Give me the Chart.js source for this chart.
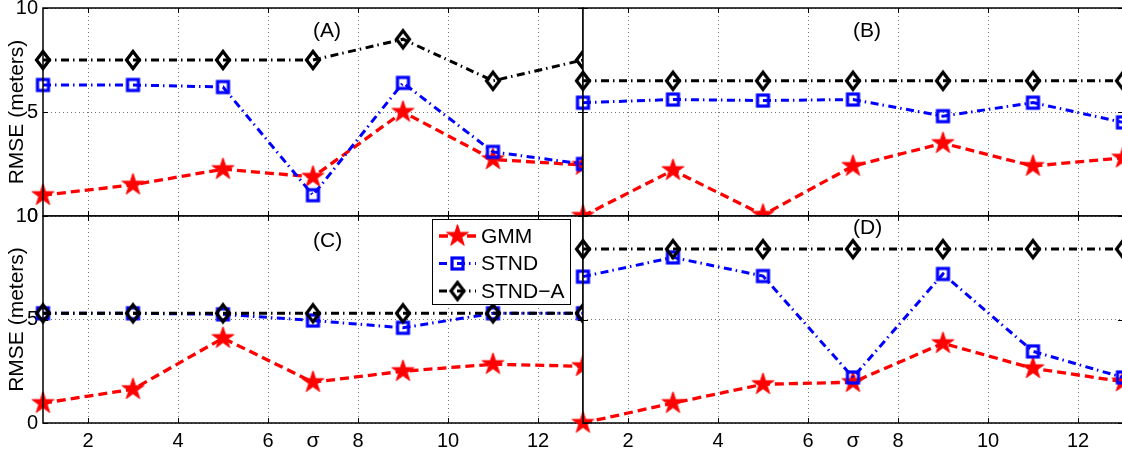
<!DOCTYPE html>
<html><head><meta charset="utf-8">
<script src="https://cdn.jsdelivr.net/npm/chart.js@4.4.0/dist/chart.umd.min.js"></script>
<style>
html,body{margin:0;padding:0;background:#fff;overflow:hidden;}
#wrap{position:relative;width:1122px;height:454px;overflow:hidden;background:#fff;}
#wrap canvas{position:absolute;}
</style></head><body>
<div id="wrap">
<canvas id="cA"></canvas><canvas id="cB"></canvas><canvas id="cC"></canvas><canvas id="cD"></canvas>
</div>
<script>
// ---- data ----
const sigma = [1, 3, 5, 7, 9, 11, 13];
const xTickValues = [2, 4, 6, 8, 10, 12];
const xTickLabels = ['2', '4', '6', '8', '10', '12'];
const yTickValues = [0, 5, 10];
const yTickLabels = ['0', '5', '10'];
const seriesNames = ['GMM', 'STND', 'STND\u2212A'];
const panelNames = ['(A)', '(B)', '(C)', '(D)'];
const yLabel = 'RMSE (meters)';
const xLabel = '\u03c3';

const gmmA   = [1.0, 1.5, 2.25, 1.88, 5.0, 2.72, 2.45];
const stndA  = [6.3, 6.3, 6.2, 1.0, 6.4, 3.08, 2.5];
const stndaA = [7.5, 7.5, 7.5, 7.5, 8.5, 6.5, 7.5];

const gmmB   = [0.0, 2.2, 0.05, 2.4, 3.5, 2.4, 2.8];
const stndB  = [5.45, 5.6, 5.55, 5.6, 4.8, 5.45, 4.5];
const stndaB = [6.5, 6.5, 6.5, 6.5, 6.5, 6.5, 6.5];

const gmmC   = [0.96, 1.63, 4.1, 1.97, 2.5, 2.84, 2.74];
const stndC  = [5.3, 5.3, 5.25, 4.95, 4.6, 5.3, 5.3];
const stndaC = [5.3, 5.3, 5.3, 5.3, 5.3, 5.3, 5.3];

const gmmD   = [0.0, 0.96, 1.87, 1.97, 3.85, 2.64, 2.0];
const stndD  = [7.07, 8.0, 7.1, 2.2, 7.2, 3.46, 2.2];
const stndaD = [8.4, 8.4, 8.4, 8.4, 8.4, 8.4, 8.4];

// ---- markers ----
function starImg(R, color) {
  const s = Math.ceil(2 * R + 2);
  const c = document.createElement('canvas'); c.width = s; c.height = s;
  const g = c.getContext('2d');
  const cx = s / 2, cy = s / 2, r = R * 0.382;
  g.beginPath();
  for (let i = 0; i < 10; i++) {
    const a = -Math.PI / 2 + i * Math.PI / 5;
    const rr = i % 2 === 0 ? R : r;
    const px = cx + rr * Math.cos(a), py = cy + rr * Math.sin(a);
    if (i === 0) g.moveTo(px, py); else g.lineTo(px, py);
  }
  g.closePath(); g.fillStyle = color; g.fill();
  g.strokeStyle = color; g.lineWidth = 1; g.stroke();
  return c;
}
function squareImg(side, lw, color) {
  const s = Math.ceil(side + lw + 2);
  const c = document.createElement('canvas'); c.width = s; c.height = s;
  const g = c.getContext('2d');
  g.strokeStyle = color; g.lineWidth = lw;
  g.strokeRect(s / 2 - side / 2, s / 2 - side / 2, side, side);
  return c;
}
function diamondImg(a, b, lw, color) {
  const w = Math.ceil(2 * a + 2 * lw + 6), h = Math.ceil(2 * b + 2 * lw + 8);
  const c = document.createElement('canvas'); c.width = w; c.height = h;
  const g = c.getContext('2d');
  const cx = w / 2, cy = h / 2;
  g.beginPath(); g.moveTo(cx, cy - b); g.lineTo(cx + a, cy); g.lineTo(cx, cy + b); g.lineTo(cx - a, cy); g.closePath();
  g.strokeStyle = color; g.lineWidth = lw; g.lineJoin = 'miter'; g.stroke();
  return c;
}
const starM = starImg(11.5, '#ff0000');
const squareM = squareImg(11, 3.2, '#0000ff');
const diamondM = diamondImg(6.5, 8.5, 3.2, '#000000');

const FONT = "'Liberation Sans', Arial, Helvetica, sans-serif";

// ---- plugins ----
const bgPlugin = {
  id: 'bg',
  beforeDraw(chart) {
    const {ctx, chartArea: a} = chart;
    ctx.save(); ctx.fillStyle = '#fff'; ctx.fillRect(a.left, a.top, a.right - a.left, a.bottom - a.top); ctx.restore();
  }
};
const boxPlugin = {
  id: 'box',
  afterDraw(chart) {
    const {ctx, chartArea: a, scales} = chart;
    ctx.save();
    ctx.strokeStyle = '#000'; ctx.lineWidth = 1.5;
    ctx.strokeRect(a.left, a.top, a.right - a.left, a.bottom - a.top);
    ctx.lineWidth = 1;
    ctx.beginPath();
    xTickValues.forEach(v => {
      const px = Math.round(scales.x.getPixelForValue(v)) + 0.5;
      ctx.moveTo(px, a.bottom); ctx.lineTo(px, a.bottom - 5);
      ctx.moveTo(px, a.top); ctx.lineTo(px, a.top + 5);
    });
    yTickValues.forEach(v => {
      const py = Math.round(scales.y.getPixelForValue(v)) + 0.5;
      ctx.moveTo(a.left, py); ctx.lineTo(a.left + 5, py);
      ctx.moveTo(a.right, py); ctx.lineTo(a.right - 5, py);
    });
    ctx.stroke();
    const pt = chart.options.plugins.panelTitle;
    if (pt) {
      ctx.fillStyle = '#000'; ctx.font = '21px ' + FONT;
      ctx.textAlign = 'left'; ctx.textBaseline = 'middle';
      ctx.fillText(pt.text, scales.x.getPixelForValue(pt.x), scales.y.getPixelForValue(pt.y));
    }
    ctx.restore();
  }
};
const legendPlugin = {
  id: 'mlegend',
  afterDraw(chart) {
    const opts = chart.options.plugins.mlegend;
    if (!opts || !opts.show) return;
    const ctx = chart.ctx;
    const {left, top, width, height, rowH, lineLen} = opts;
    ctx.save();
    ctx.fillStyle = '#fff'; ctx.fillRect(left, top, width, height);
    ctx.strokeStyle = '#000'; ctx.lineWidth = 1; ctx.strokeRect(left + 0.5, top + 0.5, width, height);
    chart.data.datasets.slice().sort((p, q) => q.order - p.order).forEach((ds, i) => {
      const y = top + 17 + i * rowH;
      const x0 = left + 7, x1 = x0 + lineLen;
      ctx.strokeStyle = ds.borderColor; ctx.lineWidth = ds.borderWidth; ctx.setLineDash(ds.borderDash);
      ctx.beginPath(); ctx.moveTo(x0, y); ctx.lineTo(x1, y); ctx.stroke(); ctx.setLineDash([]);
      const m = ds.pointStyle;
      ctx.drawImage(m, (x0 + x1) / 2 - m.width / 2, y - m.height / 2);
      ctx.fillStyle = '#000'; ctx.font = '21px ' + FONT; ctx.textAlign = 'left'; ctx.textBaseline = 'middle';
      ctx.fillText(ds.label, x1 + 5, y + 1);
    });
    ctx.restore();
  }
};

function mkDatasets(gmm, stnd, stnda) {
  const pts = arr => sigma.map((x, i) => ({x: x, y: arr[i]}));
  return [
    {label: seriesNames[0], data: pts(gmm), borderColor: '#ff0000', borderWidth: 3.3, borderDash: [9, 5],
     pointStyle: starM, pointRadius: 11, clip: false, order: 3},
    {label: seriesNames[1], data: pts(stnd), borderColor: '#0000ff', borderWidth: 3, borderDash: [8, 4, 1.5, 4.5],
     pointStyle: squareM, pointRadius: 8, clip: false, order: 2},
    {label: seriesNames[2], data: pts(stnda), borderColor: '#000000', borderWidth: 3, borderDash: [8, 4, 1.5, 4.5],
     pointStyle: diamondM, pointRadius: 9, clip: false, order: 1}
  ];
}

function makeChart(id, box, sets, cfg) {
  const cv = document.getElementById(id);
  cv.width = box.w; cv.height = box.h;
  cv.style.left = box.left + 'px'; cv.style.top = box.top + 'px';
  cv.style.width = box.w + 'px'; cv.style.height = box.h + 'px';
  return new Chart(cv, {
    type: 'line',
    data: {datasets: sets},
    plugins: [bgPlugin, boxPlugin, legendPlugin],
    options: {
      responsive: false, animation: false, devicePixelRatio: 1,
      layout: {padding: cfg.padding, autoPadding: false},
      elements: {line: {tension: 0, fill: false}},
      plugins: {legend: {display: false}, tooltip: {enabled: false}, title: {display: false},
        panelTitle: cfg.panelTitle, mlegend: cfg.legend || {show: false}},
      scales: {
        x: {
          type: 'linear', min: 1, max: 13,
          afterBuildTicks: s => { s.ticks = xTickValues.map(v => ({value: v})); },
          afterFit: s => { s.height = cfg.xAxisH; s.paddingLeft = 0; s.paddingRight = 0; },
          ticks: {display: cfg.showX, autoSkip: false, maxRotation: 0, padding: 6, color: '#000',
            font: {family: FONT, size: 20}, callback: (v, i) => xTickLabels[i]},
          grid: {color: 'rgba(0,0,0,0.55)', lineWidth: 1, drawTicks: false},
          border: {display: false, dash: [1, 3]},
          title: {display: cfg.showX, text: xLabel, color: '#000', font: {family: FONT, size: 21},
            padding: {top: 0, bottom: 0}}
        },
        y: {
          type: 'linear', min: 0, max: 10,
          afterBuildTicks: s => { s.ticks = yTickValues.map(v => ({value: v})); },
          afterFit: s => { s.width = cfg.yAxisW; s.paddingTop = 0; s.paddingBottom = 0; },
          ticks: {display: cfg.showY, autoSkip: false, padding: 5, color: '#000',
            font: {family: FONT, size: 20}, callback: (v, i) => yTickLabels[i]},
          grid: {color: 'rgba(0,0,0,0.55)', lineWidth: 1, drawTicks: false},
          border: {display: false, dash: [1, 3]},
          title: {display: cfg.showY, text: yLabel, color: '#000', font: {family: FONT, size: 21},
            padding: {top: 5, bottom: 0}}
        }
      }
    }
  });
}

makeChart('cA', {left: 0, top: 0, w: 600, h: 235}, mkDatasets(gmmA, stndA, stndaA),
  {padding: {left: 0, top: 8, right: 17, bottom: 19}, yAxisW: 43, xAxisH: 0, showX: false, showY: true,
   panelTitle: {text: panelNames[0], x: 7, y: 8.9}});
makeChart('cB', {left: 560, top: 0, w: 570, h: 235}, mkDatasets(gmmB, stndB, stndaB),
  {padding: {left: 23, top: 8, right: 7, bottom: 19}, yAxisW: 0, xAxisH: 0, showX: false, showY: false,
   panelTitle: {text: panelNames[1], x: 7, y: 8.9}});
makeChart('cC', {left: 0, top: 200, w: 600, h: 254}, mkDatasets(gmmC, stndC, stndaC),
  {padding: {left: 0, top: 16, right: 17, bottom: 0}, yAxisW: 43, xAxisH: 31, showX: true, showY: true,
   panelTitle: {text: panelNames[2], x: 7, y: 8.8},
   legend: {show: true, left: 432, top: 19, width: 138, height: 85, rowH: 27.5, lineLen: 37}});
makeChart('cD', {left: 560, top: 200, w: 570, h: 254}, mkDatasets(gmmD, stndD, stndaD),
  {padding: {left: 23, top: 16, right: 7, bottom: 0}, yAxisW: 0, xAxisH: 31, showX: true, showY: false,
   panelTitle: {text: panelNames[3], x: 7, y: 9.4}});
</script>
</body></html>
